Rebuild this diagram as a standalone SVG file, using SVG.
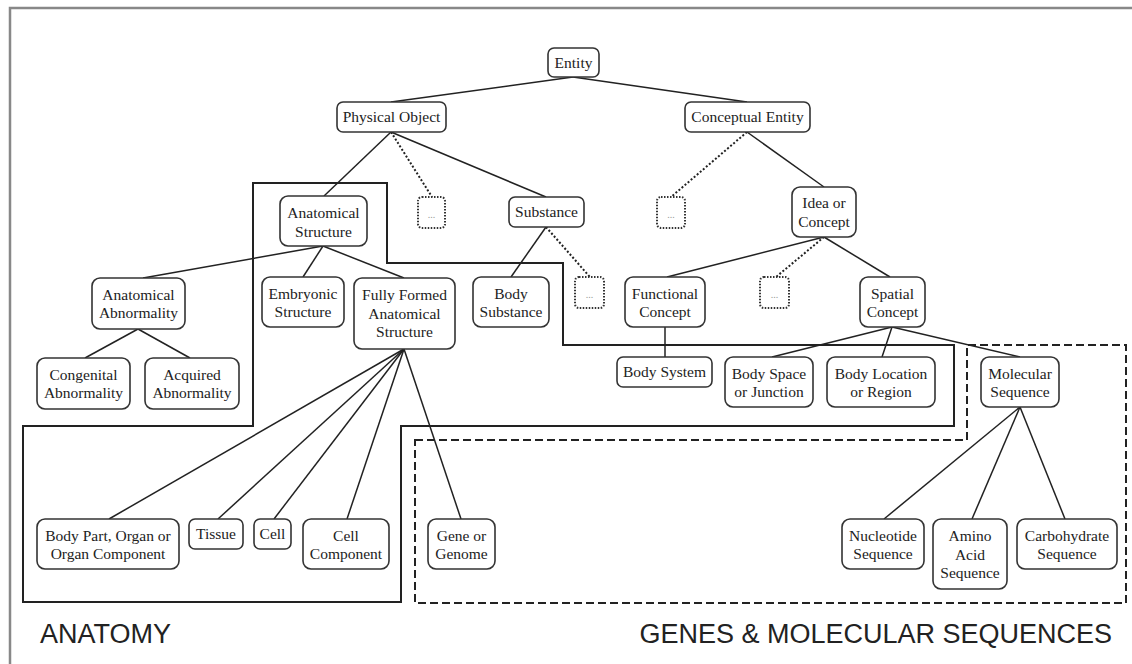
<svg xmlns="http://www.w3.org/2000/svg" width="1132" height="664" viewBox="0 0 1132 664">
<style>
.bg{fill:#fff}
.frame{stroke:#888;stroke-width:2.5;fill:none}
.n rect{fill:#fff;stroke:#333;stroke-width:1.6}
.n text{font-family:"Liberation Serif","Times New Roman",serif;font-size:15.5px;fill:#222;text-anchor:middle}
.d rect{fill:#fff;stroke:#333;stroke-width:2;stroke-dasharray:1.5 1.5}
.d text{font-family:"Liberation Serif",serif;font-size:10px;fill:#999;text-anchor:middle}
.c line{stroke:#222;stroke-width:1.5}
.c line.dot{stroke-dasharray:2 2;stroke-width:2}
.region{fill:none;stroke:#222;stroke-width:2}
.region.dash{stroke-dasharray:8 4}
.lab{font-family:"Liberation Sans",Arial,sans-serif;font-size:27px;fill:#222}
</style>
<rect class="bg" x="0" y="0" width="1132" height="664"/>
<path class="frame" d="M10 664 V8 H1132"/>
<g id="regions">
<path id="anatomy-region" class="region" d="M253 183 H387 V263 H563 V345 H954 V426 H401 V602 H23 V426 H253 Z"/>
<path id="genes-region" class="region dash" d="M415 440 H967 V345 H1126 V603 H415 Z"/>
</g>
<g id="connectors" class="c">
<line x1="573" y1="77" x2="391" y2="102"/>
<line x1="573" y1="77" x2="747" y2="102"/>
<line x1="391" y1="132" x2="324" y2="196"/>
<line class="dot" x1="391" y1="132" x2="432" y2="197"/>
<line x1="391" y1="132" x2="546" y2="197"/>
<line class="dot" x1="747" y1="132" x2="671" y2="197"/>
<line x1="747" y1="132" x2="824" y2="187"/>
<line x1="323" y1="246" x2="143" y2="278"/>
<line x1="323" y1="246" x2="303" y2="277"/>
<line x1="323" y1="246" x2="404" y2="278"/>
<line x1="546" y1="227" x2="511" y2="277"/>
<line class="dot" x1="546" y1="227" x2="590" y2="277"/>
<line x1="824" y1="237" x2="667" y2="277"/>
<line class="dot" x1="824" y1="237" x2="776" y2="277"/>
<line x1="824" y1="237" x2="890" y2="277"/>
<line x1="138" y1="329" x2="85" y2="358"/>
<line x1="138" y1="329" x2="190" y2="358"/>
<line x1="665" y1="327" x2="665" y2="357"/>
<line x1="892" y1="327" x2="772" y2="357"/>
<line x1="892" y1="327" x2="882" y2="357"/>
<line x1="892" y1="327" x2="1020" y2="357"/>
<line x1="404" y1="349" x2="109" y2="519"/>
<line x1="404" y1="349" x2="218" y2="519"/>
<line x1="404" y1="349" x2="274" y2="519"/>
<line x1="404" y1="349" x2="347" y2="519"/>
<line x1="404" y1="349" x2="461" y2="519"/>
<line x1="1020" y1="407" x2="884" y2="519"/>
<line x1="1020" y1="407" x2="972" y2="519"/>
<line x1="1020" y1="407" x2="1065" y2="519"/>
</g>
<g id="entity" class="n"><rect x="548" y="48" width="51" height="29" rx="6"/><text x="573.5" y="68">Entity</text></g>
<g id="physical-object" class="n"><rect x="337" y="102" width="109" height="30" rx="6"/><text x="391.5" y="122">Physical Object</text></g>
<g id="conceptual-entity" class="n"><rect x="685" y="102" width="125" height="30" rx="6"/><text x="747.5" y="122">Conceptual Entity</text></g>
<g id="anatomical-structure" class="n"><rect x="280" y="196" width="87" height="50" rx="8"/><text x="323.5" y="218">Anatomical</text><text x="323.5" y="237">Structure</text></g>
<g id="more-1" class="d"><rect x="418" y="197" width="27" height="31" rx="4"/><text x="431.5" y="218">...</text></g>
<g id="substance" class="n"><rect x="509" y="197" width="75" height="30" rx="6"/><text x="546.5" y="217">Substance</text></g>
<g id="more-2" class="d"><rect x="657" y="197" width="28" height="31" rx="4"/><text x="671" y="218">...</text></g>
<g id="idea-or-concept" class="n"><rect x="792" y="187" width="64" height="50" rx="8"/><text x="824" y="208">Idea or</text><text x="824" y="227">Concept</text></g>
<g id="anatomical-abnormality" class="n"><rect x="92" y="278" width="93" height="51" rx="8"/><text x="138.5" y="300">Anatomical</text><text x="138.5" y="318">Abnormality</text></g>
<g id="embryonic-structure" class="n"><rect x="262" y="277" width="82" height="50" rx="8"/><text x="303" y="299">Embryonic</text><text x="303" y="317">Structure</text></g>
<g id="fully-formed" class="n"><rect x="354" y="278" width="101" height="71" rx="8"/><text x="404.5" y="300">Fully Formed</text><text x="404.5" y="318.5">Anatomical</text><text x="404.5" y="337">Structure</text></g>
<g id="body-substance" class="n"><rect x="473" y="277" width="76" height="50" rx="8"/><text x="511" y="299">Body</text><text x="511" y="317">Substance</text></g>
<g id="more-3" class="d"><rect x="575" y="277" width="29" height="31" rx="4"/><text x="589.5" y="298">...</text></g>
<g id="functional-concept" class="n"><rect x="625" y="277" width="80" height="50" rx="8"/><text x="665" y="299">Functional</text><text x="665" y="317">Concept</text></g>
<g id="more-4" class="d"><rect x="760" y="277" width="29" height="31" rx="4"/><text x="774.5" y="298">...</text></g>
<g id="spatial-concept" class="n"><rect x="860" y="277" width="65" height="50" rx="8"/><text x="892.5" y="299">Spatial</text><text x="892.5" y="317">Concept</text></g>
<g id="congenital-abnormality" class="n"><rect x="37" y="358" width="93" height="51" rx="8"/><text x="83.5" y="380">Congenital</text><text x="83.5" y="398">Abnormality</text></g>
<g id="acquired-abnormality" class="n"><rect x="145" y="358" width="94" height="51" rx="8"/><text x="192" y="380">Acquired</text><text x="192" y="398">Abnormality</text></g>
<g id="body-system" class="n"><rect x="617" y="357" width="95" height="30" rx="6"/><text x="664.5" y="377">Body System</text></g>
<g id="body-space" class="n"><rect x="725" y="357" width="88" height="50" rx="8"/><text x="769" y="379">Body Space</text><text x="769" y="397">or Junction</text></g>
<g id="body-location" class="n"><rect x="827" y="357" width="108" height="50" rx="8"/><text x="881" y="379">Body Location</text><text x="881" y="397">or Region</text></g>
<g id="molecular-sequence" class="n"><rect x="981" y="357" width="78" height="50" rx="8"/><text x="1020" y="379">Molecular</text><text x="1020" y="397">Sequence</text></g>
<g id="body-part" class="n"><rect x="37" y="519" width="142" height="50" rx="8"/><text x="108" y="541">Body Part, Organ or</text><text x="108" y="559">Organ Component</text></g>
<g id="tissue" class="n"><rect x="189" y="519" width="54" height="30" rx="6"/><text x="216" y="539">Tissue</text></g>
<g id="cell" class="n"><rect x="254" y="519" width="37" height="30" rx="6"/><text x="272.5" y="539">Cell</text></g>
<g id="cell-component" class="n"><rect x="303" y="519" width="86" height="50" rx="8"/><text x="346" y="541">Cell</text><text x="346" y="559">Component</text></g>
<g id="gene-or-genome" class="n"><rect x="428" y="519" width="67" height="50" rx="8"/><text x="461.5" y="541">Gene or</text><text x="461.5" y="559">Genome</text></g>
<g id="nucleotide-sequence" class="n"><rect x="842" y="519" width="82" height="50" rx="8"/><text x="883" y="541">Nucleotide</text><text x="883" y="559">Sequence</text></g>
<g id="amino-acid-sequence" class="n"><rect x="933" y="519" width="74" height="70" rx="8"/><text x="970" y="541">Amino</text><text x="970" y="559.5">Acid</text><text x="970" y="578">Sequence</text></g>
<g id="carbohydrate-sequence" class="n"><rect x="1017" y="519" width="100" height="50" rx="8"/><text x="1067" y="541">Carbohydrate</text><text x="1067" y="559">Sequence</text></g>
<text class="lab" x="40" y="643">ANATOMY</text>
<text class="lab" x="1112" y="643" text-anchor="end">GENES &amp; MOLECULAR SEQUENCES</text>
</svg>
